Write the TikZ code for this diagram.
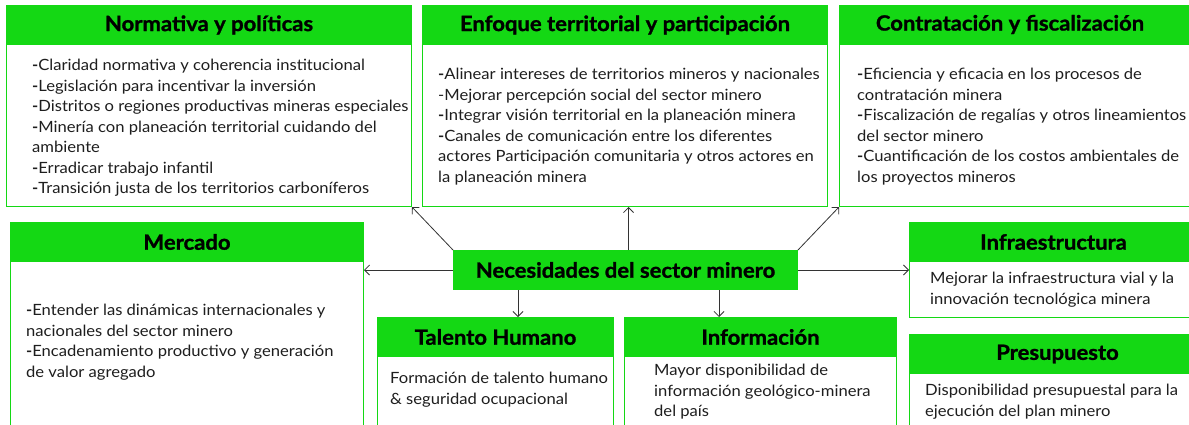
\documentclass[tikz,border=0pt]{standalone}
\usepackage{fontspec}
\setmainfont{Lato}[FakeStretch=1.07]
\newfontfamily\titlefont{Lato}[FakeStretch=1.05, BoldFeatures={FakeBold=1.2}]
\usetikzlibrary{arrows.meta}
\definecolor{grn}{RGB}{20,216,20}
\definecolor{txt}{RGB}{30,30,30}
\begin{document}
\begin{tikzpicture}[x=1pt,y=-1pt,
 box/.style={draw=grn, line width=1pt, fill=white, anchor=north west, inner sep=0pt},
 head/.style={fill=grn, draw=grn, line width=1pt, anchor=north west, inner sep=0pt, minimum height=39pt, font=\fontsize{21}{22}\titlefont\bfseries, text=black},
 ttl/.style={inner sep=0pt, font=\fontsize{21}{22}\titlefont\bfseries, text=black},
 body/.style={anchor=north west, inner sep=0pt, align=left, font=\fontsize{15.5}{20.5}\selectfont, text=txt},
 arr/.style={-{Straight Barb[length=5pt,width=10pt]}, line width=0.8pt, draw=black!80}]
\useasboundingbox (0,0) rectangle (1189,424);
\begin{scope}
\clip (0,0) rectangle (1189,424);
% top row
\node[box, minimum width=405pt, minimum height=201pt] (nor) at (6,5) {};
\node[head, minimum width=405pt] (norh) at (6,5) {Normativa y políticas};
\node[body] (nort) at (32,56) {\strut\textbf{-}Claridad normativa y coherencia institucional\\
\textbf{-}Legislación para incentivar la inversión\\
\textbf{-}Distritos o regiones productivas mineras especiales\\
\textbf{-}Minería con planeación territorial cuidando del\\
ambiente\\
\textbf{-}Erradicar trabajo infantil\\
\textbf{-}Transición justa de los territorios carboníferos};

\node[box, minimum width=405pt, minimum height=201pt] (enf) at (422,5) {};
\node[head, minimum width=405pt] (enfh) at (422,5) {Enfoque territorial y participación};
\node[body] (enft) at (438,65) {\strut\textbf{-}Alinear intereses de territorios mineros y nacionales\\
-Mejorar percepción social del sector minero\\
\textbf{-}Integrar visión territorial en la planeación minera\\
\textbf{-}Canales de comunicación entre los diferentes\\
actores Participación comunitaria y otros actores en\\
la planeación minera};

\node[box, minimum width=370pt, minimum height=201pt] (con) at (839,5) {};
\node[head, minimum width=370pt] (conh) at (839,5) {};
\node[ttl] (contl) at (1010,24.5) {Contratación y fiscalización};
\node[body] (cont) at (857,65) {\strut\textbf{-}Eficiencia y eficacia en los procesos de\\
contratación minera\\
\textbf{-}Fiscalización de regalías y otros lineamientos\\
del sector minero\\
\textbf{-}Cuantificación de los costos ambientales de\\
los proyectos mineros};

% middle / bottom
\node[box, minimum width=353pt, minimum height=220pt] (mer) at (10,222) {};
\node[head, minimum width=353pt] (merh) at (10,222) {Mercado};
\node[body] (mert) at (26,301) {\strut\textbf{-}Entender las dinámicas internacionales y\\
nacionales del sector minero\\
\textbf{-}Encadenamiento productivo y generación\\
de valor agregado};

\node[box, minimum width=236pt, minimum height=130pt] (tal) at (377,317) {};
\node[head, minimum width=236pt] (talh) at (377,317) {Talento Humano};
\node[body] (talt) at (390,369) {\strut Formación de talento humano\\
\& seguridad ocupacional};

\node[box, minimum width=272pt, minimum height=130pt] (info) at (624,317) {};
\node[head, minimum width=272pt] (infoh) at (624,317) {Información};
\node[body] (infot) at (654,361) {\strut Mayor disponibilidad de\\
información geológico-minera\\
del país};

\node[box, minimum width=300pt, minimum height=95pt] (inf) at (909,222) {};
\node[head, minimum width=288pt] (infh) at (909,222) {Infraestructura};
\node[body] (inft) at (930,269) {\strut Mejorar la infraestructura vial y la\\
innovación tecnológica minera};

\node[box, minimum width=300pt, minimum height=120pt] (pre) at (909,334) {};
\node[head, minimum width=296pt] (preh) at (909,334) {Presupuesto};
\node[body] (pret) at (925,381) {\strut Disponibilidad presupuestal para la\\
ejecución del plan minero};

% centre
\node[head, minimum width=344pt] (cen) at (453,250) {Necesidades del sector minero};

% connectors
\draw[arr] (cen.north west) -- (nor.south east);
\draw[arr] ([xshift=3pt]cen.north) -- ([xshift=3pt]cen.north |- enf.south);
\draw[arr] (cen.north east) -- (con.south west);
\draw[arr] (cen.west) -- (mer.east |- cen.west);
\draw[arr] (cen.east) -- (inf.west |- cen.east);
\draw[arr] ([xshift=65pt]cen.south west) -- ([xshift=65pt]cen.south west |- tal.north);
\draw[arr] ([xshift=-79pt]cen.south east) -- ([xshift=-79pt]cen.south east |- info.north);
\end{scope}
\end{tikzpicture}
\end{document}
